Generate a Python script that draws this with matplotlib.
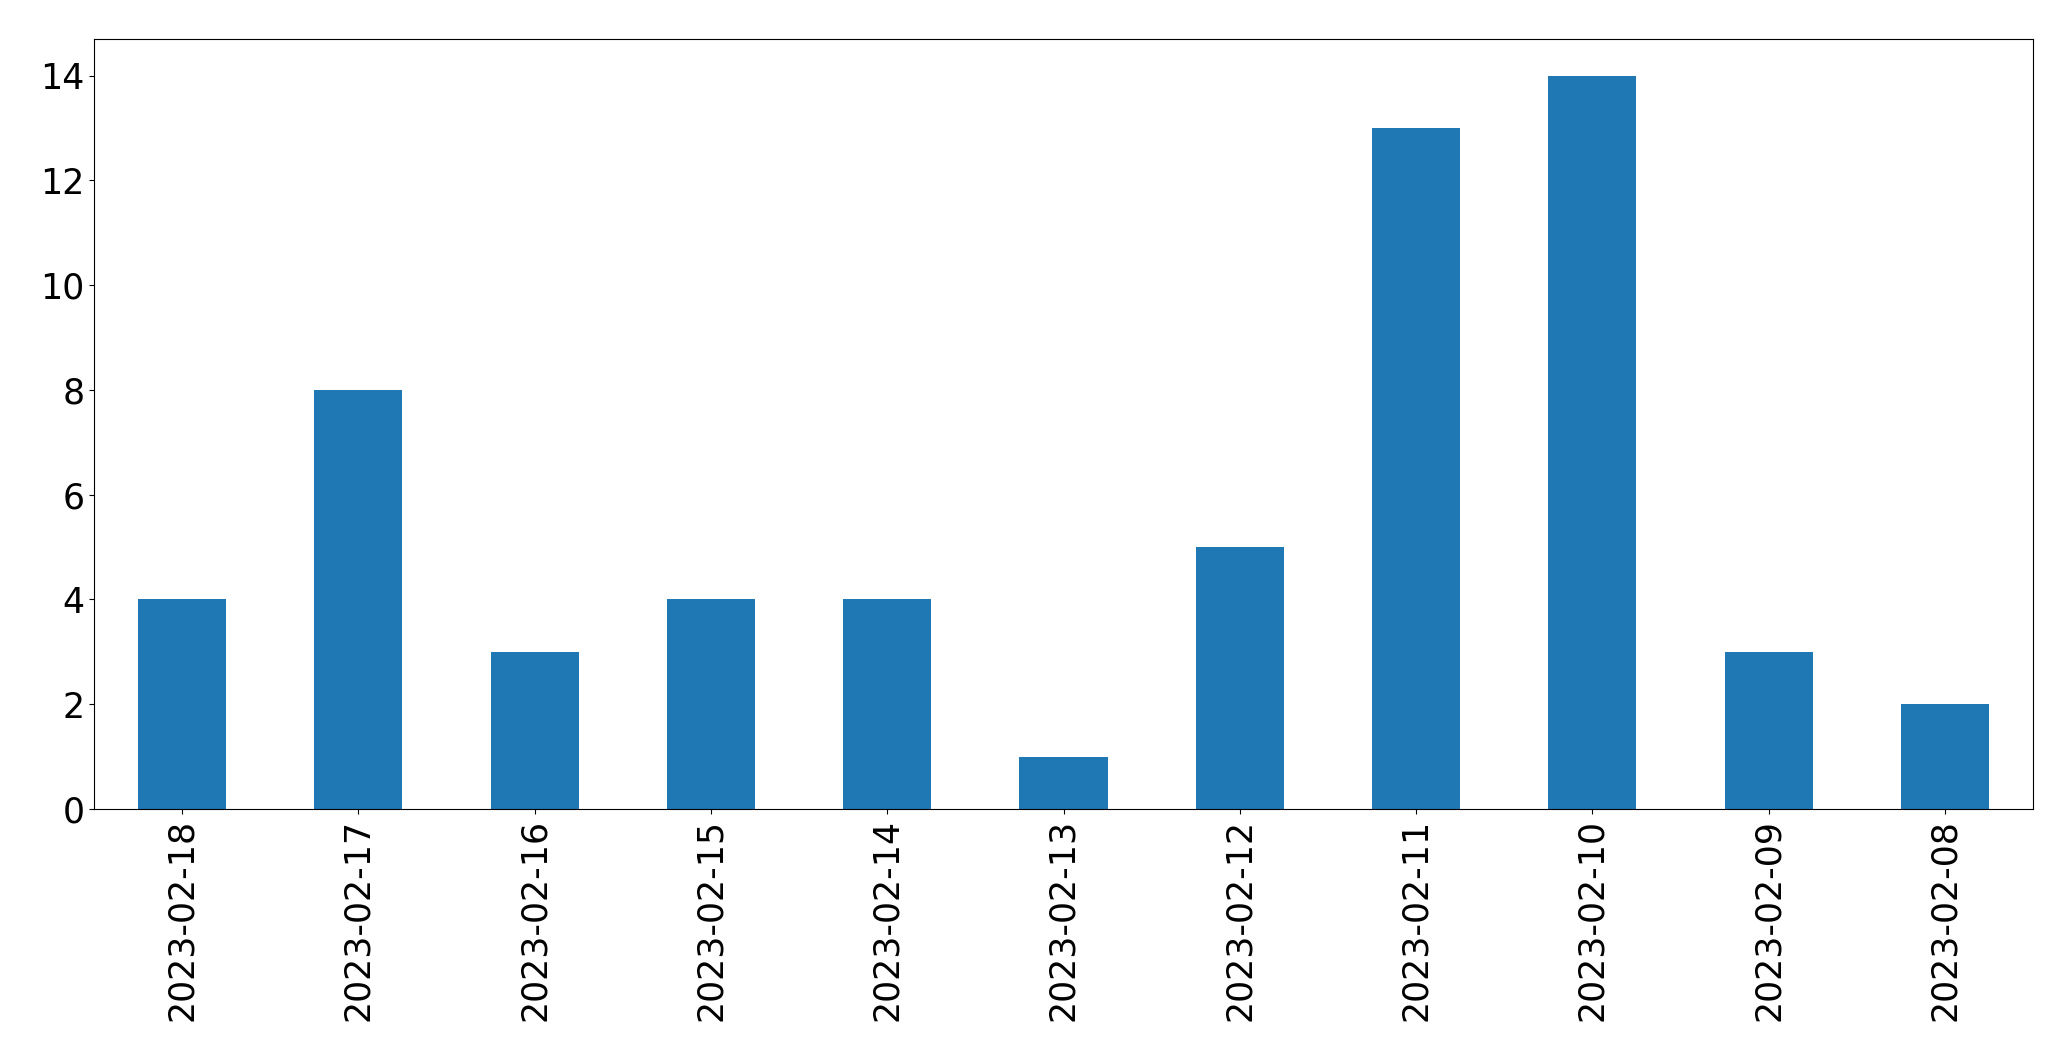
import matplotlib
matplotlib.use("Agg")
import matplotlib.pyplot as plt
import pandas as pd

dates = ["2023-02-18", "2023-02-17", "2023-02-16", "2023-02-15", "2023-02-14",
         "2023-02-13", "2023-02-12", "2023-02-11", "2023-02-10", "2023-02-09", "2023-02-08"]
counts = [4, 8, 3, 4, 4, 1, 5, 13, 14, 3, 2]

s = pd.Series(counts, index=dates)
fig, ax = plt.subplots(figsize=(20.71, 10.61), dpi=100)
s.plot(kind="bar", ax=ax, color="#1f77b4")
ax.tick_params(axis="both", labelsize=25)
fig.subplots_adjust(left=94/2071, right=2033/2071, top=1-39/1061, bottom=1-809/1061)
fig.savefig("out.png", dpi=100)
